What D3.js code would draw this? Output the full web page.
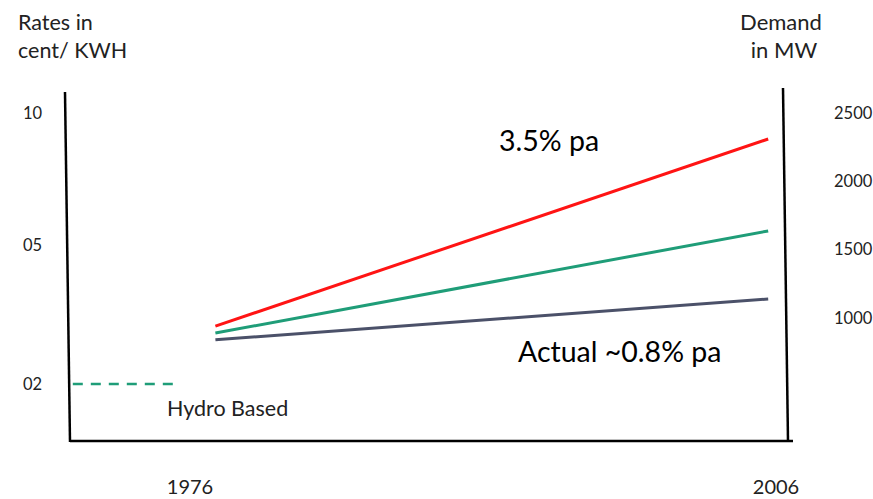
<!DOCTYPE html>
<html>
<head>
<meta charset="utf-8">
<script src="https://cdn.jsdelivr.net/npm/d3@7"></script>
<style>
  html, body { margin: 0; padding: 0; background: #fff; }
  svg { display: block; font-family: Lato, "Open Sans", sans-serif; }
</style>
</head>
<body>
<svg id="chart" width="873" height="499"></svg>
<script>
// Rate ticks (cent/KWH) on the left, demand ticks (MW) on the right
const rateTicks = [10, 5, 2];
const rateTickLabels = ["10", "05", "02"];
const demandTicks = [2500, 2000, 1500, 1000];
const yearTicks = [1976, 2006];

// Demand growth scenarios: [year, MW]
const growthYears = [1977.3, 2005.6];
const highGrowth = [940, 2310];     // 3.5% pa
const midGrowth = [890, 1637];
const actualGrowth = [840, 1139];   // actual ~0.8% pa

// Hydro based tariff (cent/KWH)
const hydroYears = [1970, 1975.2];
const hydroRate = [2, 2];

const svg = d3.select("#chart");

const x = d3.scaleLinear().domain([1976, 2006]).range([190, 776]);
const yRate = d3.scaleLinear().domain([2, 5, 10]).range([384, 245, 113]);
const yDemand = d3.scaleLinear().domain([1000, 2500]).range([318, 113]);

// Frame: left, bottom and right axis lines
const frame = svg.append("g").attr("stroke", "#000").attr("stroke-width", 2.5).attr("fill", "none");
frame.append("line").attr("x1", 65).attr("y1", 92).attr("x2", 70).attr("y2", 442);
frame.append("line").attr("x1", 70).attr("y1", 441).attr("x2", 793).attr("y2", 441);
frame.append("line").attr("x1", 783).attr("y1", 88).attr("x2", 788).attr("y2", 441);

// Left tick labels
svg.append("g").selectAll("text").data(rateTicks).join("text")
  .attr("x", 23).attr("y", d => yRate(d)).attr("dy", "0.35em")
  .attr("font-size", 16.5).attr("fill", "#222")
  .text((d, i) => rateTickLabels[i]);

// Right tick labels
svg.append("g").selectAll("text").data(demandTicks).join("text")
  .attr("x", 834).attr("y", d => yDemand(d)).attr("dy", "0.35em")
  .attr("font-size", 16.5).attr("fill", "#222")
  .text(d => d);

// Year labels
svg.append("g").selectAll("text").data(yearTicks).join("text")
  .attr("x", d => x(d)).attr("y", 494).attr("text-anchor", "middle")
  .attr("font-size", 20).attr("fill", "#222")
  .text(d => d);

// Axis titles
const leftTitle = svg.append("text").attr("font-size", 21.5).attr("fill", "#222");
leftTitle.append("tspan").attr("x", 18).attr("y", 30).text("Rates in");
leftTitle.append("tspan").attr("x", 18).attr("y", 58).text("cent/ KWH");
const rightTitle = svg.append("text").attr("font-size", 22).attr("fill", "#222").attr("text-anchor", "middle");
rightTitle.append("tspan").attr("x", 781).attr("y", 30).text("Demand");
rightTitle.append("tspan").attr("x", 784).attr("y", 58).text("in MW");

// Growth lines
const series = [
  { values: highGrowth, color: "#ff1414" },
  { values: midGrowth, color: "#1f9d78" },
  { values: actualGrowth, color: "#4b5169" }
];
const line = d3.line().x(d => x(d[0])).y(d => yDemand(d[1]));
svg.append("g").selectAll("path").data(series).join("path")
  .attr("fill", "none").attr("stroke", d => d.color).attr("stroke-width", 3)
  .attr("d", d => line(growthYears.map((yr, i) => [yr, d.values[i]])));

// Hydro dashed line
const hydroLine = d3.line().x(d => x(d[0])).y(d => yRate(d[1]));
svg.append("path")
  .attr("fill", "none").attr("stroke", "#1f9d78").attr("stroke-width", 2.5)
  .attr("stroke-dasharray", "10,8")
  .attr("d", hydroLine(hydroYears.map((yr, i) => [yr, hydroRate[i]])));

// Annotations
svg.append("text").attr("x", 499).attr("y", 151).attr("font-size", 28.5).attr("fill", "#000").text("3.5% pa");
svg.append("text").attr("x", 518).attr("y", 362).attr("font-size", 28.5).attr("fill", "#000").text("Actual ~0.8% pa");
svg.append("text").attr("x", 167).attr("y", 416).attr("font-size", 21.5).attr("fill", "#222").text("Hydro Based");
</script>
</body>
</html>
